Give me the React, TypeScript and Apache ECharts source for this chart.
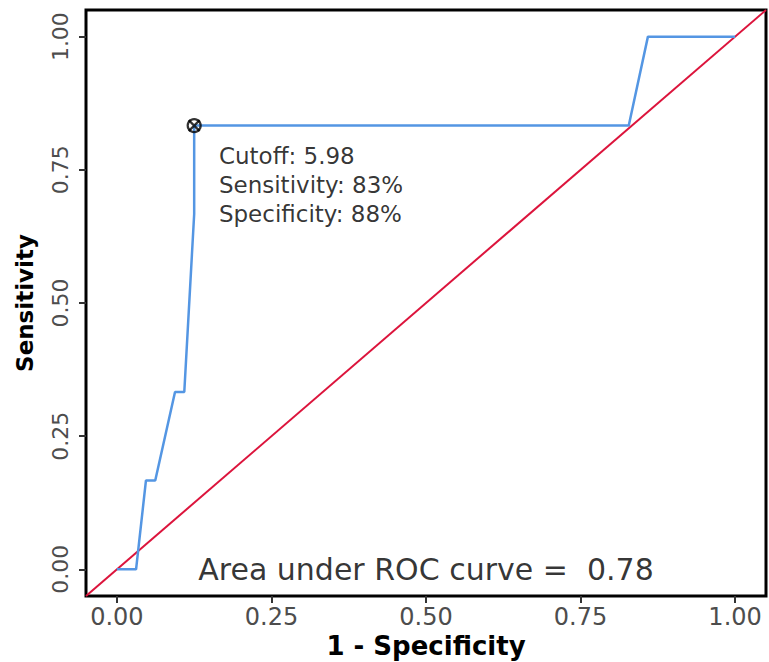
import React, { useEffect, useRef } from "react";
import * as echarts from "echarts";

// ROC curve (1 - specificity, sensitivity)
const fpr = [0, 0.031, 0.047, 0.062, 0.094, 0.109, 0.125, 0.125, 0.828, 0.859, 1.0];
const tpr = [0, 0, 0.167, 0.167, 0.333, 0.333, 0.667, 0.833, 0.833, 1.0, 1.0];
const refLine = [-0.05, 1.05];
const optimal = [0.125, 0.833];
const tickValues = [0, 0.25, 0.5, 0.75, 1];
const cutoffLines = ["Cutoff: 5.98", "Sensitivity: 83%", "Specificity: 88%"];
const cutoffAnchor = [0.165, 0.722];
const aucText = "Area under ROC curve =  0.78";
const aucAnchor = [0.5, 0.0];

const FONT = "DejaVu Sans";

export default function App() {
  const ref = useRef<HTMLDivElement>(null);
  useEffect(() => {
    if (!ref.current) return;
    const chart = echarts.init(ref.current, null, { renderer: "svg" });
    const axisCommon = {
      type: "value" as const,
      min: -0.05,
      max: 1.05,
      axisLine: { show: false, onZero: false },
      splitLine: { show: false },
      axisTick: {
        show: true,
        customValues: tickValues,
        length: 7,
        lineStyle: { color: "#333", width: 2 },
      },
      nameLocation: "middle" as const,
      nameMoveOverlap: false,
      nameTextStyle: { fontFamily: FONT, fontWeight: "bold" as const, color: "#000" },
    };
    chart.setOption({
      animation: false,
      backgroundColor: "#fff",
      grid: {
        left: 86,
        right: 3,
        top: 10,
        bottom: 66,
        containLabel: false,
        outerBoundsMode: "none",
        show: true,
        borderColor: "#000",
        borderWidth: 3,
        backgroundColor: "#fff",
      },
      xAxis: {
        ...axisCommon,
        name: "1 - Specificity",
        nameGap: 50,
        nameTextStyle: { ...axisCommon.nameTextStyle, fontSize: 26, verticalAlign: "middle" },
        axisLabel: {
          customValues: tickValues,
          formatter: (v: number) => v.toFixed(2),
          fontFamily: FONT,
          fontSize: 24,
          color: "#4d4d4d",
          margin: 9,
        },
      },
      yAxis: {
        ...axisCommon,
        name: "Sensitivity",
        nameGap: 50,
        nameRotate: 90,
        nameTextStyle: { ...axisCommon.nameTextStyle, fontSize: 23 },
        axisLabel: {
          customValues: tickValues,
          formatter: (v: number) => v.toFixed(2),
          fontFamily: FONT,
          fontSize: 22,
          color: "#4d4d4d",
          rotate: 90,
          margin: 15,
        },
      },
      series: [
        {
          type: "line",
          data: refLine.map((v) => [v, v]),
          symbol: "none",
          lineStyle: { color: "#dc143c", width: 2 },
          z: 3,
        },
        {
          type: "line",
          data: fpr.map((x, i) => [x, tpr[i]]),
          symbol: "none",
          lineStyle: { color: "#5496e3", width: 2.5 },
          z: 4,
        },
        {
          type: "scatter",
          data: [optimal],
          symbol: "circle",
          symbolSize: 13,
          itemStyle: { color: "rgba(0,0,0,0)", borderColor: "#000", borderWidth: 2.2 },
          z: 5,
        },
        {
          type: "scatter",
          data: [optimal],
          symbol: "path://M0,0L10,10M10,0L0,10",
          symbolSize: 11,
          itemStyle: { color: "none", borderColor: "#000", borderWidth: 2.2 },
          z: 5,
        },
        {
          type: "scatter",
          data: [cutoffAnchor],
          symbolSize: 0,
          silent: true,
          label: {
            show: true,
            position: "right",
            distance: 0,
            formatter: () => cutoffLines.join("\n"),
            fontFamily: FONT,
            fontSize: 23,
            lineHeight: 29,
            color: "#000",
            align: "left",
          },
          z: 6,
        },
        {
          type: "scatter",
          data: [aucAnchor],
          symbolSize: 0,
          silent: true,
          label: {
            show: true,
            position: "inside",
            formatter: () => aucText,
            fontFamily: FONT,
            fontSize: 30,
            color: "#000",
          },
          z: 6,
        },
      ],
    });
    return () => chart.dispose();
  }, []);
  return (
    <div
      ref={ref}
      style={{ position: "absolute", left: 0, top: 0, width: 769, height: 662 }}
    />
  );
}
